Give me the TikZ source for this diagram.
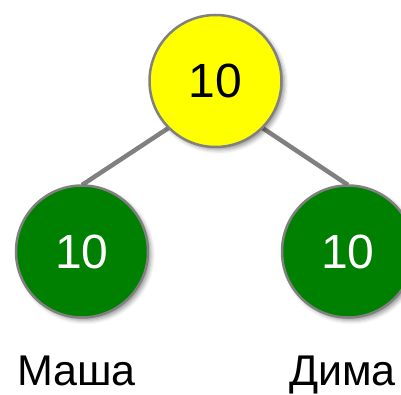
\documentclass[tikz,border=0pt]{standalone}
\usepackage{fontspec}
\setmainfont{Liberation Sans}
\usetikzlibrary{calc,shadows.blur}
\definecolor{ygold}{HTML}{FFFF00}
\definecolor{dgreen}{HTML}{008000}
\definecolor{edgegrey}{HTML}{808080}
\begin{document}
\begin{tikzpicture}[x=1pt,y=1pt,
  treenode/.style={circle, draw=edgegrey, line width=2.5pt, minimum size=132pt, inner sep=0pt,
    font=\fontsize{48}{48}\selectfont,
    blur shadow={shadow xshift=3pt, shadow yshift=-3pt, shadow blur radius=4pt, shadow opacity=40}},
  rootnode/.style={treenode, fill=ygold, text=black},
  leafnode/.style={treenode, fill=dgreen, text=white},
  link/.style={draw=edgegrey, line width=4.5pt},
  namelabel/.style={font=\fontsize{43}{43}\selectfont, anchor=base west, inner sep=0pt}]
\useasboundingbox (0,0) rectangle (401,394);
\clip (0,0) rectangle (401,394);
\coordinate (rpos) at (215.5,313);
\coordinate (lpos) at (82,142.5);
\coordinate (dpos) at (348,142.5);
\path[link] ($(rpos)+(225:66.5)$) -- ($(lpos)+(0,66.5)$);
\path[link] ($(rpos)+(-45:66.5)$) -- ($(dpos)+(0,66.5)$);
\node[rootnode] (root) at (rpos) {10};
\node[leafnode] (masha) at (lpos) {10};
\node[leafnode] (dima) at (dpos) {10};
\node[namelabel] (mname) at (17,9) {Маша};
\node[namelabel] (dname) at (289,9) {Дима};
\end{tikzpicture}
\end{document}
